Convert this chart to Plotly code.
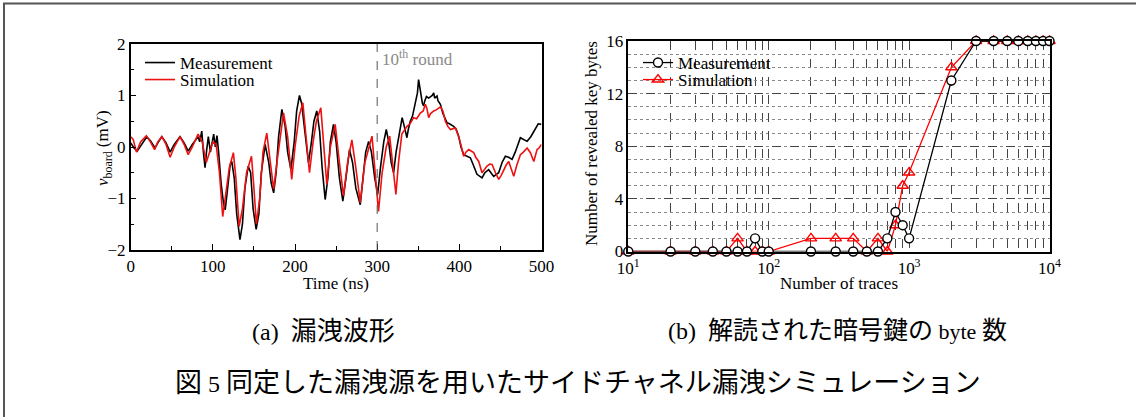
import plotly.graph_objects as go

W, H = 1136, 417

# ---------------- (a) waveform data ----------------
meas_t = [0, 4, 8, 13, 19.5, 24, 29.6, 33, 37.8, 43, 48, 53, 60, 65, 70, 75, 82, 84, 86.5, 88.5,
          90.5, 92.5, 94.5, 97, 99, 101, 103, 105, 107, 110, 113, 115, 118, 121, 123, 126, 129,
          133, 136, 139, 143, 146, 149, 152.7, 156, 159, 163.6, 168, 171, 174, 177, 180, 184,
          188, 191, 195, 199, 202, 205.4, 208, 212, 216.4, 220, 223, 226.5, 230, 233, 236.7,
          240, 243, 246.8, 250, 254, 258.2, 262, 266.3, 270, 274, 279.4, 283, 286, 289.6, 293,
          297, 300.6, 304, 308, 311.1, 314, 317, 320, 323, 327, 330.4, 333, 336.2, 338, 340.3,
          343, 345, 347.6, 349, 350.4, 352, 353.3, 355, 356.5, 358, 360, 362.7, 365, 367, 368.8,
          370, 372.8, 374, 376.9, 380, 385, 388, 393, 396, 399.2, 402, 405.3, 409, 413.4, 417,
          421.5, 427.6, 431, 435.7, 439, 441.8, 447.9, 452, 456, 460, 464.2, 468, 474.3, 478,
          482.5, 487, 492.7, 496, 500]
meas_v = [0.08, -0.02, -0.08, 0.05, 0.2, 0.12, -0.02, 0.08, 0.2, 0.08, -0.1, 0.05, 0.2, 0.08,
          -0.08, 0.05, 0.2, 0.1, 0.31, -0.1, -0.4, -0.05, 0.2, -0.1, 0.1, 0.25, 0.0, 0.22, -0.1,
          -0.7, -1.1, -1.22, -0.8, -0.35, -0.28, -0.6, -1.3, -1.8, -1.5, -0.8, -0.37, -0.5, -1.2,
          -1.6, -1.3, -0.5, 0.05, -0.3, -0.7, -0.89, -0.5, 0.2, 0.73, 0.4, -0.1, -0.44, 0.1, 0.7,
          1.0, 0.85, 0.3, -0.31, 0.1, 0.5, 0.7, 0.3, -0.4, -1.02, -0.6, 0.1, 0.44, 0.1, -0.6,
          -1.05, -0.6, -0.05, -0.3, -0.8, -1.12, -0.6, -0.1, 0.11, -0.1, -0.6, -0.92, -0.4, 0.1,
          0.34, 0.1, -0.3, -0.5, -0.1, 0.3, 0.57, 0.4, 0.18, 0.35, 0.5, 0.6, 0.75, 0.99, 1.05,
          1.31, 1.1, 1.02, 0.85, 0.8, 0.9, 0.98, 0.95, 0.98, 1.0, 1.05, 0.95, 0.99, 0.9, 0.83,
          0.65, 0.47, 0.45, 0.40, 0.35, 0.21, 0.0, -0.15, -0.18, -0.21, -0.35, -0.53, -0.6, -0.5,
          -0.44, -0.5, -0.57, -0.5, -0.3, -0.18, -0.2, -0.24, -0.1, 0.18, 0.15, 0.11, 0.2, 0.37,
          0.45, 0.44]

sim_t = [0, 3, 7, 12, 19, 24, 29, 33, 38, 43, 48, 53, 60, 65, 70, 75, 82, 87, 92, 96, 100,
         104, 108, 112, 116, 120, 125, 128, 132, 136, 141, 147, 150, 153, 157, 161, 165.6, 170,
         174, 178, 186, 191, 196, 200, 205, 209.5, 213, 217.6, 222, 226, 231.4, 235, 238.7,
         243, 248.9, 254, 259, 264, 269.2, 274, 279.4, 285, 293.7, 297, 301.6, 306, 311, 315.2,
         319, 322.8, 326, 330, 336.3, 340, 344.4, 348, 352.5, 356, 358.6, 360.5, 362.7, 365,
         368.8, 372, 376.9, 380, 383, 386, 389.1, 392, 395.2, 398, 401.3, 405.3, 408, 411.4,
         414, 417.5, 420, 423.6, 427.6, 430, 433.7, 437, 439.8, 444, 447.9, 451, 454, 457,
         460.1, 463, 466.2, 470, 474.3, 478, 482.5, 486.5, 490.6, 494.6, 497, 500]
sim_v = [0.2, 0.15, -0.1, 0.1, 0.22, 0.1, -0.05, 0.1, 0.2, 0.05, -0.2, 0.0, 0.2, 0.05, -0.15,
         0.0, 0.25, 0.1, -0.3, -0.1, 0.1, 0.05, -0.5, -1.35, -0.9, -0.4, -0.11, -0.6, -1.54,
         -1.2, -0.5, -0.18, -0.8, -1.5, -1.0, -0.1, 0.27, -0.3, -0.82, -0.3, 0.66, 0.2, -0.63,
         0.0, 0.6, 0.86, 0.2, -0.5, 0.1, 0.5, 0.76, 0.0, -0.73, 0.0, 0.44, -0.3, -0.95, -0.3,
         0.14, -0.4, -1.08, -0.3, 0.21, -0.4, -1.25, -0.5, 0.0, 0.21, -0.4, -0.92, -0.3, 0.25,
         0.4, 0.45, 0.57, 0.55, 0.66, 0.7, 0.83, 0.75, 0.57, 0.65, 0.70, 0.72, 0.78, 0.7, 0.5,
         0.4, 0.34, 0.36, 0.37, 0.25, 0.08, -0.18, -0.1, -0.05, -0.08, -0.11, -0.2, -0.28,
         -0.5, -0.45, -0.37, -0.33, -0.34, -0.5, -0.63, -0.55, -0.44, -0.35, -0.28, -0.4,
         -0.57, -0.35, -0.15, -0.1, -0.02, -0.11, -0.28, -0.05, -0.02, 0.05]

round_t = 300

# ---------------- (b) key bytes data ----------------
traces_meas = [10, 20, 30, 40, 50, 60, 70, 80, 90, 100, 200, 300, 400, 500, 600, 700, 800, 900,
               1000, 2000, 3000, 4000, 5000, 6000, 7000, 8000, 9000, 10000]
bytes_meas = [0, 0, 0, 0, 0, 0, 0, 1, 0, 0, 0, 0, 0, 0, 0, 1, 3, 2, 1, 13, 16, 16, 16, 16, 16,
              16, 16, 16]
traces_sim = traces_meas
bytes_sim = [0, 0, 0, 0, 0, 1, 0, 0, 0, 0, 1, 1, 1, 0, 1, 0, 2, 5, 6, 14, 16, 16, 16, 16, 16,
             16, 16, 16]

xb_ticks = [10, 100, 1000, 10000]
xb_labels = ["10<sup>1</sup>", "10<sup>2</sup>", "10<sup>3</sup>", "10<sup>4</sup>"]
xb_minor = [m * d for d in (10, 100, 1000) for m in range(2, 10)]


def px(x):
    return x / W


def py(y):
    return 1 - y / H


SERIF = "Liberation Serif"
CJK = "Noto Sans CJK JP"

fig = go.Figure()

fig.add_trace(go.Scatter(x=meas_t, y=meas_v, mode="lines", name="Measurement",
                         line=dict(color="black", width=1.6), xaxis="x", yaxis="y",
                         legend="legend"))
fig.add_trace(go.Scatter(x=sim_t, y=sim_v, mode="lines", name="Simulation",
                         line=dict(color="#ee1111", width=1.6), xaxis="x", yaxis="y",
                         legend="legend2"))

fig.add_trace(go.Scatter(x=traces_sim, y=bytes_sim, mode="lines+markers", name="Simulation",
                         line=dict(color="red", width=1.3),
                         marker=dict(symbol="triangle-up-open", size=10, color="red",
                                     line=dict(width=1.4)),
                         xaxis="x2", yaxis="y2", legend="legend4", cliponaxis=False))
fig.add_trace(go.Scatter(x=traces_meas, y=bytes_meas, mode="lines+markers", name="Measurement",
                         line=dict(color="black", width=1.3),
                         marker=dict(symbol="circle", size=9, color="white",
                                     line=dict(width=1.4, color="black")),
                         xaxis="x2", yaxis="y2", legend="legend3", cliponaxis=False))

axis_common = dict(showline=True, linecolor="black", linewidth=1.5, mirror=True,
                   tickfont=dict(family=SERIF, size=17, color="black"), zeroline=False,
                   automargin=False)


def leg(xpix, ypix):
    return dict(x=px(xpix), y=py(ypix), xanchor="left", yanchor="middle",
                bgcolor="rgba(0,0,0,0)", font=dict(family=SERIF, size=17, color="black"),
                itemwidth=30, tracegroupgap=0)


fig.update_layout(
    width=W, height=H,
    margin=dict(l=0, r=0, t=0, b=0),
    paper_bgcolor="white", plot_bgcolor="white",
    xaxis=dict(domain=[px(130.7), px(541.5)], range=[0, 500], anchor="y",
               tickvals=[0, 100, 200, 300, 400, 500], ticks="inside", ticklen=6,
               tickcolor="black", showgrid=False,
               minor=dict(ticks="inside", ticklen=4, dtick=50, tickcolor="black"),
               **axis_common),
    yaxis=dict(domain=[py(250), py(44)], range=[-2, 2], anchor="x",
               tickvals=[-2, -1, 0, 1, 2], ticks="inside", ticklen=6, tickcolor="black",
               showgrid=False,
               minor=dict(ticks="inside", ticklen=4, dtick=0.5, tickcolor="black"),
               **axis_common),
    xaxis2=dict(domain=[px(628.3), px(1049.5)], type="log", range=[1, 4], anchor="y2",
                tickvals=xb_ticks, ticktext=xb_labels, ticks="",
                showgrid=True, gridcolor="#444", griddash="dash", gridwidth=1,
                minor=dict(tickvals=xb_minor, showgrid=True, gridcolor="#444",
                           griddash="dash", gridwidth=1),
                **axis_common),
    yaxis2=dict(domain=[py(251.5), py(41)], range=[0, 16], anchor="x2",
                tickvals=[0, 4, 8, 12, 16], ticks="",
                showgrid=True, gridcolor="#444", griddash="dash", gridwidth=1,
                minor=dict(dtick=1, showgrid=True, gridcolor="#888", griddash="dot",
                           gridwidth=1),
                **axis_common),
    legend=leg(140, 63),
    legend2=leg(140, 80),
    legend3=leg(638, 63),
    legend4=leg(638, 80),
    showlegend=True,
)

# 10th round marker
fig.add_shape(type="line", xref="x", yref="y", x0=round_t, x1=round_t, y0=-2, y1=2,
              line=dict(color="#555", width=1, dash="dash"))

annotations = [
    dict(x=px(380), y=py(58), xref="paper", yref="paper", xanchor="left", yanchor="middle",
         text="10<sup>th</sup> round", showarrow=False,
         font=dict(family=SERIF, size=17, color="#8a8a8a")),
    dict(x=px(104), y=py(148), xref="paper", yref="paper", xanchor="center",
         yanchor="middle", text="<i>v</i><sub>board</sub> (mV)", textangle=-90,
         showarrow=False, font=dict(family=SERIF, size=17, color="black")),
    dict(x=px(336), y=py(283), xref="paper", yref="paper", xanchor="center",
         yanchor="middle", text="Time (ns)", showarrow=False,
         font=dict(family=SERIF, size=17, color="black")),
    dict(x=px(591), y=py(143), xref="paper", yref="paper", xanchor="center",
         yanchor="middle", text="Number of revealed key bytes", textangle=-90,
         showarrow=False, font=dict(family=SERIF, size=17, color="black")),
    dict(x=px(839), y=py(283), xref="paper", yref="paper", xanchor="center",
         yanchor="middle", text="Number of traces", showarrow=False,
         font=dict(family=SERIF, size=17, color="black")),
    dict(x=px(323), y=py(328), xref="paper", yref="paper", xanchor="center",
         yanchor="middle",
         text=f"<span style='font-family:{SERIF};font-size:24px'>(a)&nbsp;&nbsp;</span>漏洩波形",
         showarrow=False, font=dict(family=CJK, size=26, color="black")),
    dict(x=px(837), y=py(328), xref="paper", yref="paper", xanchor="center",
         yanchor="middle",
         text=f"<span style='font-family:{SERIF};font-size:24px'>(b)&nbsp;&nbsp;</span>解読された暗号鍵の"
              f"<span style='font-family:{SERIF};font-size:22px'>&nbsp;byte&nbsp;</span>数",
         showarrow=False, font=dict(family=CJK, size=25, color="black")),
    dict(x=px(578), y=py(380), xref="paper", yref="paper", xanchor="center",
         yanchor="middle",
         text=f"図<span style='font-family:{SERIF};font-size:24px'>&nbsp;5&nbsp;</span>同定した漏洩源を用いたサイドチャネル漏洩シミュレーション",
         showarrow=False, font=dict(family=CJK, size=27, color="black")),
]
fig.update_layout(annotations=annotations)

# outer frame
fig.add_shape(type="rect", xref="paper", yref="paper", x0=px(4), x1=px(1142), y0=py(425),
              y1=py(3.5), line=dict(color="#555", width=2), fillcolor="rgba(0,0,0,0)")

fig.write_html("out.html", config={"displayModeBar": False},
               post_script="document.body.style.margin='0';document.body.style.padding='0';")
